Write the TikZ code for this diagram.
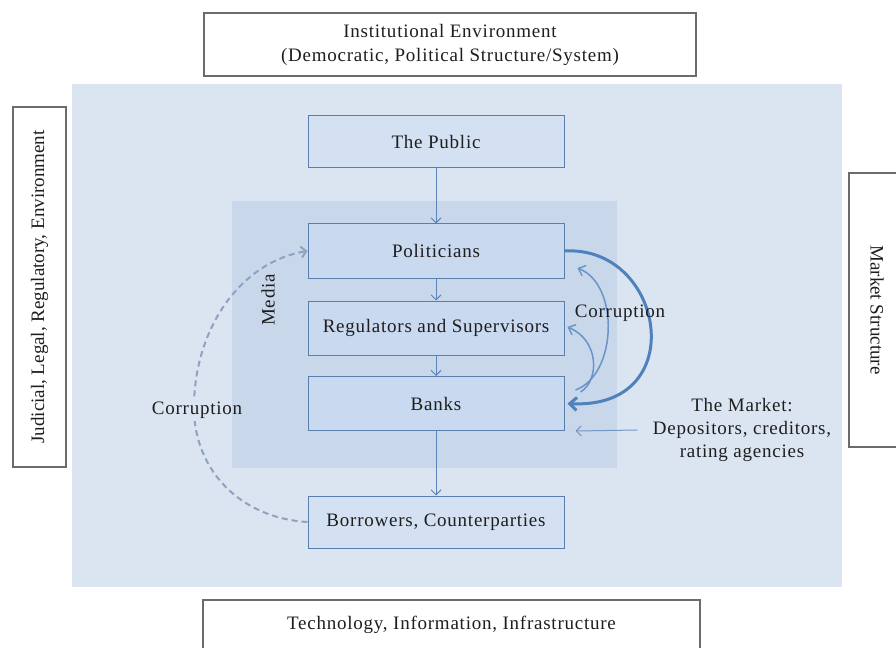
\documentclass[tikz,border=0pt]{standalone}
\usepackage{fontspec}
\setmainfont{Liberation Serif}
\newfontfamily\boxfont{Liberation Serif}[LetterSpace=4]
\usetikzlibrary{arrows.meta}
\definecolor{bgblue}{HTML}{DBE5F1}
\definecolor{mediablue}{HTML}{C9D7EB}
\definecolor{boxin}{HTML}{C8D9F0}
\definecolor{boxout}{HTML}{D4E1F3}
\definecolor{boxline}{HTML}{5A7EAE}
\definecolor{arrowblue}{HTML}{5B84BA}
\definecolor{thickblue}{HTML}{4F81BD}
\definecolor{dashgray}{HTML}{8DA3BF}
\definecolor{outline}{HTML}{6B6B6B}
\definecolor{txt}{HTML}{1E1E1E}
\begin{document}
\begin{tikzpicture}[x=1bp,y=-1bp,
  inner/.style={draw=boxline, line width=1bp, fill=boxin, minimum width=256bp, minimum height=54bp,
    text=txt, font=\boxfont\fontsize{19bp}{23bp}\selectfont},
  outerwhite/.style={draw=outline, line width=1.2bp, fill=white, text=txt},
  lbl/.style={text=txt, font=\boxfont\fontsize{19bp}{23bp}\selectfont, align=center},
  flow/.style={draw=arrowblue, line width=1bp, -{Straight Barb[length=5bp,width=10bp]}},
  thinarc/.style={draw=thickblue!85, line width=1.5bp, -{Straight Barb[length=6bp,width=11bp]}},
  thickarc/.style={draw=thickblue, line width=3bp, -{Straight Barb[length=7bp,width=13bp]}},
  dasharc/.style={draw=dashgray, line width=2bp, dash pattern=on 6bp off 4bp, -{Straight Barb[length=5bp,width=11bp]}}
]
\path[use as bounding box] (0,0) rectangle (896,648);
\clip (0,0) rectangle (896,648);
\fill[white] (0,0) rectangle (896,648);
% backgrounds
\fill[bgblue] (72,84) rectangle (842,587);
\fill[mediablue] (232,201) rectangle (617,468);

% outer environment boxes
\node[outerwhite, minimum width=492bp, minimum height=63bp, align=center,
  font=\boxfont\fontsize{19bp}{24bp}\selectfont] (inst) at (450,44.5)
  {Institutional Environment\\(Democratic, Political Structure/System)};
\node[outerwhite, rotate=90, minimum width=360bp, minimum height=53bp,
  font=\fontsize{19bp}{23bp}\selectfont] (jud) at (39.5,287)
  {Judicial, Legal, Regulatory, Environment};
\node[outerwhite, rotate=-90, minimum width=274bp, minimum height=56bp,
  font=\fontsize{19bp}{23bp}\selectfont] (mstr) at (877,310)
  {Market Structure};
\node[outerwhite, minimum width=497bp, minimum height=50bp,
  font=\boxfont\fontsize{19bp}{23bp}\selectfont] (tech) at (451.5,625)
  {Technology, Information, Infrastructure};

% main column
\node[inner, fill=boxout, minimum height=52bp] (public) at (436,142) {The Public};
\node[inner] (pol) at (436,251) {Politicians};
\node[inner] (reg) at (436,328) {Regulators and Supervisors};
\node[inner] (banks) at (436,403.5) {Banks};
\node[inner, fill=boxout, minimum height=52bp] (borr) at (436,522) {Borrowers, Counterparties};

\node[lbl, rotate=90] (media) at (268,300) {Media};

\draw[flow] (public) -- (pol);
\draw[flow] (pol) -- (reg);
\draw[flow] (reg) -- (banks);
\draw[flow] (banks) -- (borr);

% corruption arcs on the right
\draw[thickarc] (pol.east) .. controls (665,245) and (692,410) .. ([shift={(3,0)}]banks.east);
\draw[thinarc] ([shift={(11,-13.5)}]banks.east) .. controls (617,375) and (620,285) .. ([shift={(13,17)}]pol.east);
\draw[thinarc] ([shift={(16,-11.5)}]banks.east) .. controls (600,380) and (599,340) .. ([shift={(3,-1)}]reg.east);
\node[lbl] (corrR) at (620,313) {Corruption};

% market
\node[lbl] (market) at (742,430) {The Market:\\Depositors, creditors,\\rating agencies};
\draw[flow, draw=arrowblue!85] ([shift={(-12,0)}]market.west) -- ([shift={(11,0)}]banks.south east);

% corruption dashed on the left
\draw[dasharc] (borr.west) .. controls (240,518) and (195,470) .. (194,410)
  .. controls (193,330) and (240,262) .. (pol.west);
\fill[bgblue] (150,399) rectangle (232,421);
\node[lbl] (corrL) at (197,410) {Corruption};
\end{tikzpicture}
\end{document}
